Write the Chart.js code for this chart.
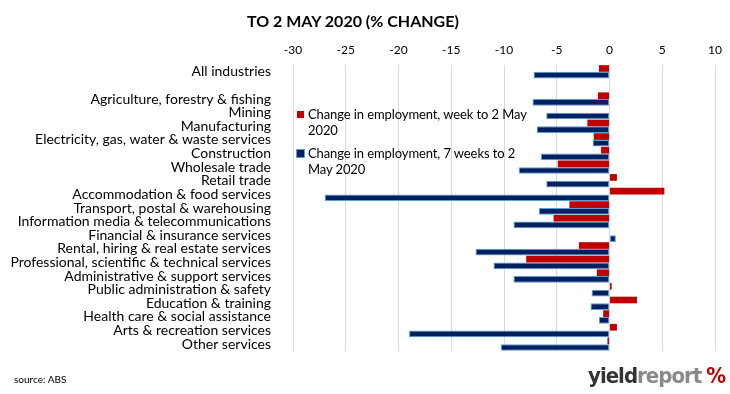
<!DOCTYPE html>
<html>
<head>
<meta charset="utf-8">
<script src="https://cdn.jsdelivr.net/npm/chart.js@4"></script>
<style>
  html, body { margin: 0; padding: 0; background: #fff; }
  #wrap { position: relative; width: 730px; height: 394px; font-family: Lato, "Open Sans", sans-serif; }
  #chart { position: absolute; left: 0; top: 0; }
  .title { position: absolute; left: 247px; top: 11px; font-size: 16px; font-weight: bold; color: #000; }
  .legend { position: absolute; left: 296px; top: 106px; width: 240px; font-size: 13px; letter-spacing: -0.1px; line-height: 16px; color: #000; white-space: nowrap; }
  .legend .item { position: relative; padding-left: 12px; margin-bottom: 7px; }
  .legend .box { position: absolute; left: 1px; top: 5px; width: 7px; height: 7px; }
  .source { position: absolute; left: 14px; top: 373px; font-size: 10px; color: #000; }
  .logo { position: absolute; left: 588px; top: 363px; font-size: 22px; font-weight: bold; letter-spacing: -1px; font-family: "DejaVu Sans Condensed", "Liberation Sans Narrow", sans-serif; white-space: nowrap; }
  .logo .a { color: #333; }
  .logo .b { color: #8a8a8a; }
  .logo .c { color: #c00000; margin-left: 5px; }
</style>
</head>
<body>
<div id="wrap">
  <canvas id="chart" width="730" height="394"></canvas>
  <div class="title">TO 2 MAY 2020 (% CHANGE)</div>
  <div class="legend">
    <div class="item"><span class="box" style="background:#c00000"></span>Change in employment, week to 2 May<br>2020</div>
    <div class="item"><span class="box" style="background:#002060;outline:1px solid #5b9bd5"></span>Change in employment, 7 weeks to 2<br>May 2020</div>
  </div>
  <div class="source">source: ABS</div>
  <div class="logo"><span class="a">yield</span><span class="b">report</span><span class="c">%</span></div>
</div>
<script>
// industries, top to bottom ('' is the spacer row under All industries)
const industries = [
    'All industries', '',
    'Agriculture, forestry & fishing', 'Mining', 'Manufacturing',
    'Electricity, gas, water & waste services', 'Construction', 'Wholesale trade',
    'Retail trade', 'Accommodation & food services', 'Transport, postal & warehousing',
    'Information media & telecommunications', 'Financial & insurance services',
    'Rental, hiring & real estate services', 'Professional, scientific & technical services',
    'Administrative & support services', 'Public administration & safety',
    'Education & training', 'Health care & social assistance',
    'Arts & recreation services', 'Other services'
];

const weekChange = [
    -1.0, null,
    -1.1, 0.0, -2.1, -1.5, -0.8, -4.9, 0.7, 5.2, -3.8, -5.3, 0.0,
    -2.9, -7.9, -1.2, 0.2, 2.6, -0.6, 0.7, -0.2
];

const sevenWeekChange = [
    -7.2, null,
    -7.3, -6.0, -6.9, -1.6, -6.5, -8.6, -6.0, -27.0, -6.7, -9.1, 0.6,
    -12.7, -11.0, -9.1, -1.7, -1.8, -1.0, -19.0, -10.3
];

const seriesNames = [
    'Change in employment, week to 2 May 2020',
    'Change in employment, 7 weeks to 2 May 2020'
];

const xMin = -30, xMax = 10, xStep = 5;

new Chart(document.getElementById('chart'), {
    type: 'bar',
    data: {
        labels: industries,
        datasets: [{
            label: seriesNames[0],
            data: weekChange,
            backgroundColor: '#c00000',
            borderWidth: 0,
            barPercentage: 1,
            categoryPercentage: 0.98
        }, {
            label: seriesNames[1],
            data: sevenWeekChange,
            backgroundColor: '#002060',
            borderColor: '#5b9bd5',
            borderWidth: 1,
            borderSkipped: false,
            barPercentage: 1,
            categoryPercentage: 0.98
        }]
    },
    options: {
        indexAxis: 'y',
        responsive: false,
        animation: false,
        layout: { padding: { left: 0, right: 14, top: 0, bottom: 43 } },
        plugins: {
            legend: { display: false },
            tooltip: { enabled: false }
        },
        scales: {
            x: {
                position: 'top',
                min: xMin, max: xMax,
                ticks: { stepSize: xStep, padding: 8, color: '#000', font: { family: 'Lato', size: 12 } },
                grid: { color: '#d9d9d9', lineWidth: 1, drawTicks: false },
                border: { display: false },
                afterFit: (s) => { s.height = 65; }
            },
            y: {
                ticks: { color: '#000', padding: 14, font: { family: 'Lato', size: 14 }, autoSkip: false },
                grid: { display: false },
                border: { display: false },
                afterFit: (s) => { s.width = 293; }
            }
        }
    }
});
</script>
</body>
</html>
